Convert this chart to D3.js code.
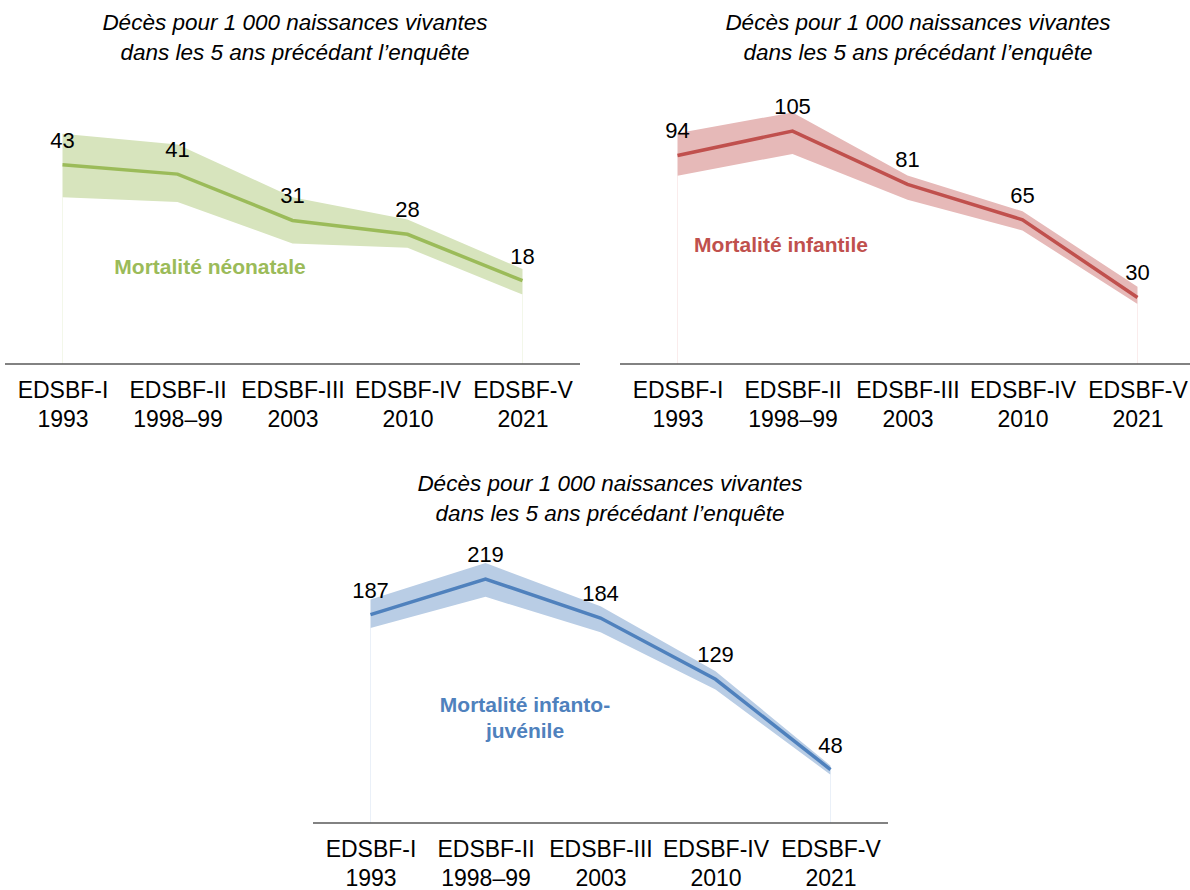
<!DOCTYPE html>
<html><head><meta charset="utf-8">
<script src="https://cdn.jsdelivr.net/npm/d3@7"></script>
<style>body{margin:0;background:#fff}svg{display:block;font-family:"Liberation Sans",Arial,sans-serif}</style>
</head><body>
<svg id="c" width="1190" height="890"></svg>
<script>
const surveys = ["EDSBF-I","EDSBF-II","EDSBF-III","EDSBF-IV","EDSBF-V"];
const years = ["1993","1998–99","2003","2010","2021"];
const titleLines = ["Décès pour 1 000 naissances vivantes","dans les 5 ans précédant l’enquête"];

const neonatal = [43,41,31,28,18];
const neonatalLow = [36.0,35.0,26.0,25.1,15.0];
const neonatalHigh = [49.7,47.4,36.0,31.2,20.5];

const infant = [94,105,81,65,30];
const infantLow = [84.9,94.7,74.0,60.2,27.0];
const infantHigh = [104.0,113.4,85.0,68.8,34.8];

const under5 = [187,219,184,129,48];
const under5Low = [175.1,203.0,171.3,119.8,43.4];
const under5High = [200.6,233.5,194.6,136.2,51.5];

const seriesNames = [["Mortalité néonatale"],["Mortalité infantile"],["Mortalité infanto-","juvénile"]];

const svg = d3.select("#c");

const panels = [
  {v:neonatal, lo:neonatalLow, hi:neonatalHigh, name:seriesNames[0], x0:5, x1:580, axisY:364, yMax:57,
   line:"#9BBB59", band:"#D7E4BD", drop:"#F3F7EA", titleX:295, titleY:30, nameX:210, nameY:274},
  {v:infant, lo:infantLow, hi:infantHigh, name:seriesNames[1], x0:620, x1:1195, axisY:364, yMax:119,
   line:"#C0504D", band:"#E6B9B8", drop:"#FAECEC", titleX:918, titleY:30, nameX:781, nameY:252},
  {v:under5, lo:under5Low, hi:under5High, name:seriesNames[2], x0:313, x1:888, axisY:823, yMax:237,
   line:"#4F81BD", band:"#B9CDE5", drop:"#EAF0F8", titleX:610, titleY:491, nameX:525, nameY:712}
];

panels.forEach(p => {
  const g = svg.append("g");
  const x = d3.scalePoint().domain(surveys).range([p.x0, p.x1]).padding(0.5);
  const y = d3.scaleLinear().domain([0, p.yMax]).range([p.axisY, p.axisY - 264]);
  const data = surveys.map((s,i) => ({s, v:p.v[i], lo:p.lo[i], hi:p.hi[i], yr:years[i]}));

  // title
  const t = g.append("text").attr("text-anchor","middle").attr("font-style","italic")
    .attr("font-size",22.5).attr("fill","#000");
  titleLines.forEach((l,i) => t.append("tspan").attr("x",p.titleX).attr("y",p.titleY + i*30).text(l));

  // faint drop lines at ends
  [data[0], data[data.length-1]].forEach(d => {
    g.append("line").attr("x1",x(d.s)).attr("x2",x(d.s))
      .attr("y1",y(d.lo)).attr("y2",p.axisY).attr("stroke",p.drop).attr("stroke-width",1);
  });

  // band
  g.append("path").datum(data)
    .attr("d", d3.area().x(d=>x(d.s)).y0(d=>y(d.lo)).y1(d=>y(d.hi)))
    .attr("fill", p.band);

  // line
  g.append("path").datum(data)
    .attr("d", d3.line().x(d=>x(d.s)).y(d=>y(d.v)))
    .attr("fill","none").attr("stroke",p.line).attr("stroke-width",3.5);

  // value labels
  g.selectAll(".val").data(data).join("text")
    .attr("x", d=>x(d.s)).attr("y", d=>y(d.v) - 17)
    .attr("text-anchor","middle").attr("font-size",22).attr("fill","#000")
    .text(d=>d.v);

  // axis
  const axis = d3.axisBottom(x).tickSize(0).tickPadding(0).tickFormat(()=>"");
  const ag = g.append("g").attr("transform",`translate(0,${p.axisY})`).call(axis);
  ag.select(".domain").attr("stroke","#595959").attr("stroke-width",1.5)
    .attr("d",`M${p.x0},0H${p.x1}`);
  ag.selectAll(".tick text").remove();
  ag.selectAll(".tick").each(function(s,i){
    const tt = d3.select(this).append("text").attr("text-anchor","middle")
      .attr("font-size",23).attr("fill","#000");
    tt.append("tspan").attr("x",0).attr("y",34).text(s);
    tt.append("tspan").attr("x",0).attr("y",63).text(years[i]);
  });

  // series name
  const n = g.append("text").attr("text-anchor","middle").attr("font-weight","bold")
    .attr("font-size",21).attr("fill",p.line);
  p.name.forEach((l,i) => n.append("tspan").attr("x",p.nameX).attr("y",p.nameY + i*26).text(l));
});
</script>
</body></html>
